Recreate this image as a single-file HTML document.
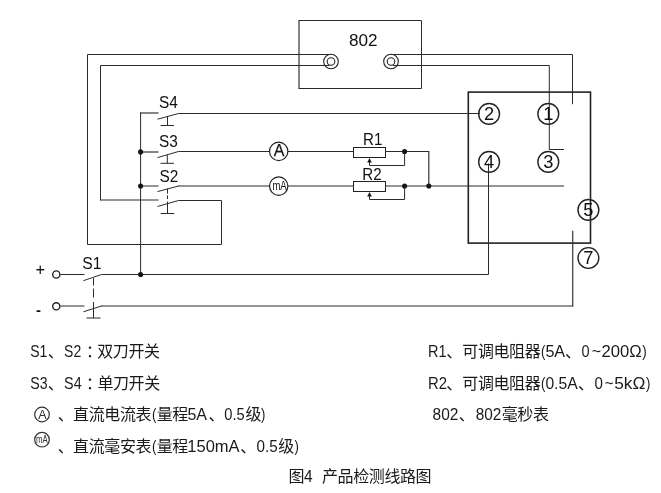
<!DOCTYPE html>
<html lang="zh-CN">
<head>
<meta charset="utf-8">
<title>图4 产品检测线路图</title>
<style>
html,body{margin:0;padding:0;background:#fff;}
body{width:661px;height:493px;overflow:hidden;}
svg{display:block;will-change:transform;filter:grayscale(1);}
text{font-family:"Liberation Sans","Noto Sans CJK SC",sans-serif;fill:#111;}
.w{fill:none;stroke:#2b2b2b;stroke-width:1;}
.g{fill:none;stroke:#2b2b2b;stroke-width:1.15;}
.b{fill:none;stroke:#222;stroke-width:1.6;}
.c{fill:#fff;stroke:#222;stroke-width:1.2;}
.t{fill:#fff;stroke:#222;stroke-width:1.4;}
.cn{fill:none;stroke:#222;stroke-width:1.4;}
.ci{fill:none;stroke:#222;stroke-width:1.1;}
.d{fill:#151515;stroke:none;}
.lab{font-size:16px;}
.num{font-size:18.3px;text-anchor:middle;}
.leg{fill:#1a1a1a;}
</style>
</head>
<body>
<svg width="661" height="493" viewBox="0 0 661 493">
<rect x="0" y="0" width="661" height="493" fill="#fff"/>

<!-- 802 timer box -->
<path class="w" d="M299 20.5H421.5V88.5H299"/>
<path class="g" d="M299 20V89"/>
<text class="lab" x="349" y="46" textLength="28.6" lengthAdjust="spacingAndGlyphs">802</text>
<circle class="ci" cx="331" cy="61.5" r="7.3"/>
<circle class="ci" cx="331" cy="61.5" r="3.8"/>
<circle class="ci" cx="391" cy="61.5" r="7.3"/>
<circle class="ci" cx="391" cy="61.5" r="3.8"/>

<!-- loops from 802 left terminal -->
<path class="w" d="M331 54.5H87.5V244.5H221.5V200.5H178.5"/>
<path class="w" d="M329.5 65.5H100.5V200.3"/>
<path class="g" d="M100 200H158.5"/>
<!-- from 802 right terminal -->
<path class="w" d="M391 54.5H572.5V104.2"/>
<path class="w" d="M393 65.5H549.3V149.5H564"/>

<!-- main box -->
<rect class="b" x="468.3" y="92.1" width="122.2" height="151"/>

<!-- bus -->
<path class="w" d="M140.6 112.5V274.5"/>
<!-- S4 -->
<path class="g" d="M140.1 113H158.5"/>
<path class="w" d="M157.5 119.2L178.5 113.5H480"/>
<path class="w" d="M167.5 116.5V125.5M160.5 125.5H174"/>
<!-- S3 -->
<path class="g" d="M140.5 152H158.5"/>
<path class="w" d="M157.5 157.6L178.5 151.5H354"/>
<path class="w" d="M167.3 154.8V163.5M160.5 163.3H174"/>
<!-- S2 -->
<path class="g" d="M140.5 186H158.5M178 186H354M385.5 186H564"/>
<path class="w" d="M157.5 191.6L178.5 186"/>
<path class="w" d="M157.5 206.5L178.5 200.5"/>
<path class="w" d="M167.5 188.7V193.6M167.5 195.4V199M167.5 201.5V213.5M160.7 213.5H174.3"/>
<!-- S1 -->
<path class="w" d="M60.5 274.5H84.5M83.4 280.7L101.5 274.5H488.5V163.5"/>
<path class="g" d="M60.5 306H84.5M101 306H573"/>
<path class="w" d="M83.4 311.8L101.5 306"/>
<path class="g" d="M572.75 306.5V230.8" style="stroke-width:1.15"/>
<path class="w" d="M93.5 278.2V285.5M93.5 288.5V297.5M93.5 302V318M86.5 318H100.5"/>
<circle class="t" cx="56.3" cy="274.5" r="3.6"/>
<circle class="t" cx="56.3" cy="306.3" r="3.6"/>

<!-- meters -->
<circle class="c" cx="278.7" cy="151.4" r="9.2"/>
<circle class="c" cx="278.7" cy="186.1" r="9.2"/>
<text x="279" y="156.4" text-anchor="middle" style="font-size:16px;stroke:#262626;stroke-width:0.25px">A</text>
<text transform="translate(272.4 190.1) scale(0.75 1)" style="font-size:12.7px">mA</text>

<!-- resistors -->
<rect class="c" x="353.5" y="147.5" width="32" height="10" style="stroke-width:1"/>
<rect class="c" x="353.5" y="181.5" width="32" height="10" style="stroke-width:1"/>
<path class="w" d="M385.5 151.5H429"/>
<path class="g" d="M428.8 151V186" style="stroke-width:1.15"/>
<path class="w" d="M404.6 151.5V165.5H369.5V159"/>
<path class="w" d="M404.6 186V199.5H369.5V193"/>
<path class="d" d="M369.5 158L367.2 162.6H371.8Z"/>
<path class="d" d="M369.5 192L367.2 196.6H371.8Z"/>
<circle class="d" cx="404.6" cy="151.5" r="2.55"/>
<circle class="d" cx="404.6" cy="186" r="2.55"/>
<circle class="d" cx="428.8" cy="186" r="2.55"/>
<circle class="d" cx="140.6" cy="151.9" r="2.55"/>
<circle class="d" cx="140.6" cy="186" r="2.55"/>
<circle class="d" cx="140.6" cy="274.5" r="2.55"/>

<!-- numbered terminals -->
<circle class="cn" cx="489.1" cy="113.9" r="10.4"/>
<circle class="cn" cx="548.3" cy="113.9" r="10.4"/>
<circle class="cn" cx="489.1" cy="161.9" r="10.4"/>
<circle class="cn" cx="548.3" cy="161.9" r="10.4"/>
<circle class="cn" cx="588.4" cy="209.9" r="10.4"/>
<circle class="cn" cx="588.4" cy="258" r="10.4"/>
<text class="num" x="489.1" y="120.2">2</text>
<text class="num" x="548.3" y="120.2">1</text>
<text class="num" x="489.1" y="168.2">4</text>
<text class="num" x="548.3" y="168.2">3</text>
<text class="num" x="588.4" y="216.2">5</text>
<text class="num" x="588.4" y="264.3">7</text>

<!-- switch / component labels -->
<text class="lab" x="159" y="107.7" textLength="18.8" lengthAdjust="spacingAndGlyphs">S4</text>
<text class="lab" x="159" y="147.4" textLength="18.8" lengthAdjust="spacingAndGlyphs">S3</text>
<text class="lab" x="159.5" y="182" textLength="18.8" lengthAdjust="spacingAndGlyphs">S2</text>
<text class="lab" x="82.3" y="269" textLength="19.2" lengthAdjust="spacingAndGlyphs">S1</text>
<text x="363" y="144.7" style="font-size:16px" textLength="19.3" lengthAdjust="spacingAndGlyphs">R1</text>
<text x="362.3" y="179.6" style="font-size:16px" textLength="19.3" lengthAdjust="spacingAndGlyphs">R2</text>
<text x="40.4" y="274.6" text-anchor="middle" style="font-size:15.6px;stroke:#262626;stroke-width:0.2px">+</text>
<text x="38.5" y="315.2" text-anchor="middle" style="font-size:15px;font-weight:bold">-</text>

<!-- legend meter symbols -->
<circle class="ci" cx="42" cy="414.5" r="7.3" style="stroke:#333;stroke-width:1.2"/>
<text x="42.3" y="418.6" text-anchor="middle" style="font-size:12.5px;fill:#333">A</text>
<circle class="ci" cx="42" cy="439.7" r="7.3" style="stroke:#333;stroke-width:1.2"/>
<text transform="translate(36.1 443) scale(0.74 1)" style="font-size:10.5px;fill:#333">mA</text>

<!-- legend -->
<text class="leg" y="357"><tspan x="30.2" font-size="16.4" textLength="17.11" lengthAdjust="spacingAndGlyphs">S1</tspan><tspan x="47.7" font-size="16.0" letter-spacing="-0.4">、</tspan><tspan x="64.1" font-size="16.4" textLength="17.11" lengthAdjust="spacingAndGlyphs">S2</tspan><tspan x="86.1" font-size="16.0" letter-spacing="-0.4">：</tspan><tspan x="97.2" font-size="16.0" letter-spacing="-0.4">双刀开关</tspan></text>
<text class="leg" y="389"><tspan x="30.2" font-size="16.4" textLength="17.32" lengthAdjust="spacingAndGlyphs">S3</tspan><tspan x="47.7" font-size="16.0" letter-spacing="-0.4">、</tspan><tspan x="64.1" font-size="16.4" textLength="17.53" lengthAdjust="spacingAndGlyphs">S4</tspan><tspan x="86.1" font-size="16.0" letter-spacing="-0.4">：</tspan><tspan x="97.4" font-size="16.0" letter-spacing="-0.4">单刀开关</tspan></text>
<text class="leg" y="420"><tspan x="57.7" font-size="16.0" letter-spacing="-0.4">、</tspan><tspan x="73.1" font-size="16.0" letter-spacing="-0.4">直流电流表</tspan><tspan x="152.1" font-size="16.4" textLength="4.38" lengthAdjust="spacingAndGlyphs">(</tspan><tspan x="156.7" font-size="16.0" letter-spacing="-0.4">量程</tspan><tspan x="187.4" font-size="16.4" textLength="19.64" lengthAdjust="spacingAndGlyphs">5A</tspan><tspan x="208.5" font-size="16.0" letter-spacing="-0.4">、</tspan><tspan x="224.3" font-size="16.4" textLength="20.41" lengthAdjust="spacingAndGlyphs">0.5</tspan><tspan x="245.4" font-size="16.0" letter-spacing="-0.4">级</tspan><tspan x="261.1" font-size="16.4" textLength="4.38" lengthAdjust="spacingAndGlyphs">)</tspan></text>
<text class="leg" y="452"><tspan x="57.7" font-size="16.0" letter-spacing="-0.4">、</tspan><tspan x="73.1" font-size="16.0" letter-spacing="-0.4">直流毫安表</tspan><tspan x="152.1" font-size="16.4" textLength="4.38" lengthAdjust="spacingAndGlyphs">(</tspan><tspan x="156.7" font-size="16.0" letter-spacing="-0.4">量程</tspan><tspan x="187.3" font-size="16.4" textLength="52.34" lengthAdjust="spacingAndGlyphs">150mA</tspan><tspan x="240.2" font-size="16.0" letter-spacing="-0.4">、</tspan><tspan x="256.5" font-size="16.4" textLength="21.24" lengthAdjust="spacingAndGlyphs">0.5</tspan><tspan x="278.3" font-size="16.0" letter-spacing="-0.4">级</tspan><tspan x="294.5" font-size="16.4" textLength="4.38" lengthAdjust="spacingAndGlyphs">)</tspan></text>
<text class="leg" y="357"><tspan x="428.1" font-size="16.4" textLength="18.53" lengthAdjust="spacingAndGlyphs">R1</tspan><tspan x="446.2" font-size="16.0" letter-spacing="-0.4">、</tspan><tspan x="462.3" font-size="16.0" letter-spacing="-0.4">可调电阻器</tspan><tspan x="541.1" font-size="16.4" textLength="4.38" lengthAdjust="spacingAndGlyphs">(</tspan><tspan x="545.4" font-size="16.4" textLength="19.75" lengthAdjust="spacingAndGlyphs">5A</tspan><tspan x="565.1" font-size="16.0" letter-spacing="-0.4">、</tspan><tspan x="581.5" font-size="16.4" textLength="8.11" lengthAdjust="spacingAndGlyphs">0</tspan><tspan x="591.7" font-size="16.4" textLength="9.37" lengthAdjust="spacingAndGlyphs">~</tspan><tspan x="601.4" font-size="16.4" textLength="40.23" lengthAdjust="spacingAndGlyphs">200Ω</tspan><tspan x="642.2" font-size="16.4" textLength="4.48" lengthAdjust="spacingAndGlyphs">)</tspan></text>
<text class="leg" y="389"><tspan x="428.1" font-size="16.4" textLength="18.97" lengthAdjust="spacingAndGlyphs">R2</tspan><tspan x="446.2" font-size="16.0" letter-spacing="-0.4">、</tspan><tspan x="462.3" font-size="16.0" letter-spacing="-0.4">可调电阻器</tspan><tspan x="541.1" font-size="16.4" textLength="4.38" lengthAdjust="spacingAndGlyphs">(</tspan><tspan x="545.4" font-size="16.4" textLength="32.23" lengthAdjust="spacingAndGlyphs">0.5A</tspan><tspan x="577.9" font-size="16.0" letter-spacing="-0.4">、</tspan><tspan x="594.4" font-size="16.4" textLength="8.42" lengthAdjust="spacingAndGlyphs">0</tspan><tspan x="604.8" font-size="16.4" textLength="8.73" lengthAdjust="spacingAndGlyphs">~</tspan><tspan x="614.2" font-size="16.4" textLength="31.16" lengthAdjust="spacingAndGlyphs">5kΩ</tspan><tspan x="645.9" font-size="16.4" textLength="4.38" lengthAdjust="spacingAndGlyphs">)</tspan></text>
<text class="leg" y="420"><tspan x="432.6" font-size="16.4" textLength="25.84" lengthAdjust="spacingAndGlyphs">802</tspan><tspan x="458.7" font-size="16.0" letter-spacing="-0.4">、</tspan><tspan x="475.8" font-size="16.4" textLength="25.54" lengthAdjust="spacingAndGlyphs">802</tspan><tspan x="501.7" font-size="16.0" letter-spacing="-0.4">毫秒表</tspan></text>
<text class="leg" y="482"><tspan x="288.4" font-size="16.0" letter-spacing="-0.4">图</tspan><tspan x="303.9" font-size="16.4" textLength="8.62" lengthAdjust="spacingAndGlyphs">4</tspan><tspan x="322.0" font-size="16.0" letter-spacing="-0.4">产品检测线路图</tspan></text>
</svg>
</body>
</html>
